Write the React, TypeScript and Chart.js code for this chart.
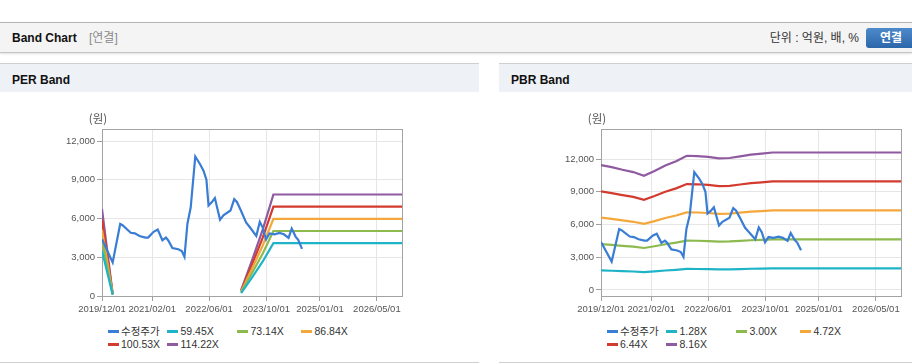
import React, { useEffect, useRef } from "react";
import { Chart, registerables } from "chart.js";
Chart.register(...registerables);

// ---------- DATA ----------
const xMinDate = "2019/12/01";
const xMaxDate = "2026/12/01";
const xTickDates = ["2019/12/01", "2021/02/01", "2022/06/01", "2023/10/01", "2025/01/01", "2026/05/01"];
const yTickValues = [0, 3000, 6000, 9000, 12000];

const priceDates = [
  "2019/12/01", "2020/03/01", "2020/05/04", "2020/05/24", "2020/08/02", "2020/09/06", "2020/10/16",
  "2020/12/05", "2020/12/28", "2021/02/13", "2021/03/20", "2021/04/29", "2021/05/29", "2021/06/18",
  "2021/07/23", "2021/09/11", "2021/10/11", "2021/11/03", "2021/11/28", "2021/12/26", "2022/02/03",
  "2022/03/15", "2022/04/14", "2022/05/09", "2022/05/27", "2022/06/23", "2022/07/20", "2022/09/02",
  "2022/10/01", "2022/11/30", "2023/01/01", "2023/01/24", "2023/02/23", "2023/04/12", "2023/05/16",
  "2023/07/08", "2023/08/07", "2023/09/01", "2023/09/29", "2023/10/29", "2023/12/10", "2024/01/22",
  "2024/02/28", "2024/04/08", "2024/05/05", "2024/06/07", "2024/06/29", "2024/08/01",
];
const priceValues = [
  4400, 2600, 5580, 5480, 4900, 4850, 4650,
  4520, 4520, 4970, 5150, 4320, 4520, 4300,
  3720, 3620, 3480, 3030, 5600, 6850, 10800,
  10220, 9700, 9000, 7000, 7250, 7580, 5900,
  6250, 6620, 7500, 7280, 6700, 5700, 5300,
  4650, 5740, 5300, 4380, 4850, 4780, 4880,
  4780, 4500, 5220, 4600, 4350, 3650,
];

const epsDates = ["2019/12/01", "2020/03/01", "2020/06/01", "2023/03/01", "2023/06/01", "2023/09/01", "2023/12/01", "2026/12/01"];
const epsValues: (number | null)[] = [58.9, 1.5, null, 3.9, 24, 45, 68.8, 68.8];

const bpsDates = [
  "2019/12/01", "2020/03/01", "2020/06/01", "2020/09/01", "2020/12/01", "2021/03/01", "2021/06/01",
  "2021/09/01", "2021/12/01", "2022/03/01", "2022/06/01", "2022/09/01", "2022/12/01", "2023/03/01",
  "2023/06/01", "2023/09/01", "2023/12/01", "2026/12/01",
];
const bpsValues = [
  1403, 1379, 1350, 1324, 1283, 1336, 1397,
  1446, 1507, 1504, 1495, 1477, 1482, 1501,
  1520, 1532, 1544, 1544,
];

const perMultiples = [59.45, 73.14, 86.84, 100.53, 114.22];
const pbrMultiples = [1.28, 3.0, 4.72, 6.44, 8.16];
const perLabels = ["59.45X", "73.14X", "86.84X", "100.53X", "114.22X"];
const pbrLabels = ["1.28X", "3.00X", "4.72X", "6.44X", "8.16X"];
const priceLabel = "수정주가";

const priceColor = "#3a7dd4";
const bandColors = ["#1fb3c8", "#8cba4f", "#f4a83c", "#d33b2f", "#8f5aa0"];

// ---------- HELPERS ----------
const ts = (s: string) => {
  const [y, m, d] = s.split("/").map(Number);
  return Date.UTC(y, m - 1, d);
};
const pad = (n: number) => (n < 10 ? "0" + n : "" + n);
const fmtDate = (v: number) => {
  const d = new Date(v);
  return `${d.getUTCFullYear()}/${pad(d.getUTCMonth() + 1)}/${pad(d.getUTCDate())}`;
};

type Series = { label: string; color: string; data: { x: number; y: number | null }[] };

const priceSeries: Series = {
  label: priceLabel,
  color: priceColor,
  data: priceDates.map((d, i) => ({ x: ts(d), y: priceValues[i] })),
};
const makeBands = (dates: string[], base: (number | null)[], mults: number[], labels: string[]): Series[] =>
  mults.map((m, k) => ({
    label: labels[k],
    color: bandColors[k],
    data: dates.map((d, i) => ({ x: ts(d), y: base[i] == null ? null : (base[i] as number) * m })),
  }));

const FONT = '"Liberation Sans", Arial, "Noto Sans CJK KR", sans-serif';

const framePlugin = {
  id: "frame",
  beforeDatasetsDraw(chart: any) {
    const { ctx, chartArea: a } = chart;
    ctx.save();
    ctx.strokeStyle = "#a3a3a3";
    ctx.lineWidth = 1;
    const x0 = Math.floor(a.left) + 0.5;
    const y0 = Math.floor(a.top) + 0.5;
    const x1 = Math.floor(a.right) + 0.5;
    const y1 = Math.floor(a.bottom) + 0.5;
    ctx.strokeRect(x0, y0, x1 - x0, y1 - y0);
    ctx.restore();
  },
  afterDraw(chart: any) {
    const { ctx, chartArea: a } = chart;
    ctx.save();
    ctx.fillStyle = "#555";
    ctx.font = '11.5px "Noto Sans CJK KR", sans-serif';
    ctx.textAlign = "center";
    ctx.textBaseline = "middle";
    ctx.fillText("(원)", a.left - 4, a.top - 10);
    ctx.restore();
  },
};

function BandChart({ series, yMin, yMax, width, height }: { series: Series[]; yMin: number; yMax: number; width: number; height: number }) {
  const ref = useRef<HTMLCanvasElement>(null);
  useEffect(() => {
    if (!ref.current) return;
    const chart = new Chart(ref.current, {
      type: "line",
      data: {
        datasets: series.map((s) => ({
          label: s.label,
          data: s.data as any,
          borderColor: s.color,
          backgroundColor: s.color,
          borderWidth: 2.2,
          pointRadius: 0,
          pointHoverRadius: 0,
          tension: 0,
          spanGaps: false,
          fill: false,
        })),
      },
      options: {
        animation: false,
        responsive: false,
        maintainAspectRatio: false,
        events: [],
        layout: { padding: { top: 36, right: width - 402, left: 0, bottom: 0 } },
        plugins: { legend: { display: false }, tooltip: { enabled: false } },
        scales: {
          x: {
            type: "linear",
            min: ts(xMinDate),
            max: ts(xMaxDate),
            afterBuildTicks: (s: any) => {
              s.ticks = xTickDates.map((d) => ({ value: ts(d) }));
            },
            afterFit: (s: any) => {
              s.height = height - 203;
            },
            grid: { color: "#e6e6e6", tickColor: "#a0a0a0", tickLength: 5, drawTicks: true },
            border: { display: false },
            ticks: {
              autoSkip: false,
              maxRotation: 0,
              padding: 3,
              color: "#555",
              font: { family: FONT, size: 9.5 },
              callback: (v: any) => fmtDate(Number(v)),
            },
          },
          y: {
            type: "linear",
            min: yMin,
            max: yMax,
            afterBuildTicks: (s: any) => {
              s.ticks = yTickValues.map((v) => ({ value: v }));
            },
            afterFit: (s: any) => {
              s.width = 102;
            },
            grid: { color: "#e6e6e6", tickColor: "#a0a0a0", tickLength: 5, drawTicks: true },
            border: { display: false },
            ticks: {
              padding: 2,
              color: "#555",
              font: { family: FONT, size: 9.5 },
              callback: (v: any) => Number(v).toLocaleString("en-US"),
            },
          },
        },
      } as any,
      plugins: [framePlugin],
    });
    return () => chart.destroy();
  }, []);
  return <canvas ref={ref} width={width} height={height} style={{ position: "absolute", left: 0, top: 29, width, height }} />;
}

const legendCols = [107.5, 167, 237, 301];

function Legend({ items }: { items: { label: string; color: string }[] }) {
  return (
    <>
      {items.map((it, i) => {
        const col = i % 4;
        const row = Math.floor(i / 4);
        const cy = 267 + row * 13.3;
        const x = legendCols[col];
        return (
          <React.Fragment key={i}>
            <div style={{ position: "absolute", left: x, top: cy - 1.5, width: 11, height: 3, background: it.color }} />
            <div
              style={{
                position: "absolute",
                left: x + 13.5,
                top: cy - 7,
                height: 14,
                lineHeight: "14px",
                fontSize: 10.5,
                fontFamily: FONT,
                color: "#333",
                whiteSpace: "nowrap",
              }}
            >
              {it.label}
            </div>
          </React.Fragment>
        );
      })}
    </>
  );
}

function Panel({ left, width, title, series, yMin, yMax }: { left: number; width: number; title: string; series: Series[]; yMin: number; yMax: number }) {
  return (
    <div
      style={{
        position: "absolute",
        left,
        top: 63,
        width,
        height: 300,
        borderTop: "1px solid #cfcfcf",
        borderBottom: "1px solid #cfcfcf",
        boxSizing: "border-box",
        background: "#ffffff",
        overflow: "hidden",
      }}
    >
      <div
        style={{
          position: "absolute",
          left: 0,
          top: 0,
          width,
          height: 28,
          background: "#eef2f7",
          fontFamily: FONT,
          fontWeight: "bold",
          fontSize: 12,
          lineHeight: "33px",
          color: "#111",
          paddingLeft: 12,
          boxSizing: "border-box",
        }}
      >
        {title}
      </div>
      <BandChart series={series} yMin={yMin} yMax={yMax} width={width} height={228} />
      <Legend items={series.map((s) => ({ label: s.label, color: s.color }))} />
    </div>
  );
}

export default function App() {
  const perSeries = [priceSeries, ...makeBands(epsDates, epsValues, perMultiples, perLabels)];
  const pbrSeries = [priceSeries, ...makeBands(bpsDates, bpsValues, pbrMultiples, pbrLabels)];
  return (
    <div style={{ position: "absolute", left: 0, top: 0, width: 912, height: 364, overflow: "hidden", background: "#fff", fontFamily: FONT }}>
      <div
        style={{
          position: "absolute",
          left: 0,
          top: 22,
          width: 912,
          height: 31,
          background: "#f4f4f4",
          borderTop: "1px solid #b5b5b5",
          borderBottom: "1px solid #c4c4c4",
          boxShadow: "0 1px 2px rgba(0,0,0,0.12)",
          boxSizing: "border-box",
        }}
      >
        <span style={{ position: "absolute", left: 12, top: 0, lineHeight: "31px", fontSize: 12, fontWeight: "bold", color: "#111" }}>Band Chart</span>
        <span style={{ position: "absolute", left: 89, top: 0, lineHeight: "31px", fontSize: 12, color: "#8a8a8a" }}>[연결]</span>
        <span style={{ position: "absolute", right: 912 - 859, top: 0, lineHeight: "31px", fontSize: 12, color: "#333", whiteSpace: "nowrap" }}>단위 : 억원, 배, %</span>
        <div
          style={{
            position: "absolute",
            left: 866,
            top: 5,
            width: 50,
            height: 20,
            borderRadius: 3,
            background: "linear-gradient(#4d8acb, #2c66aa)",
            color: "#fff",
            fontWeight: "bold",
            fontSize: 12,
            lineHeight: "20px",
            textAlign: "center",
          }}
        >
          연결
        </div>
      </div>
      <Panel left={0} width={479} title="PER Band" series={perSeries} yMin={0} yMax={12930} />
      <Panel left={499} width={413} title="PBR Band" series={pbrSeries} yMin={-550} yMax={14750} />
    </div>
  );
}
